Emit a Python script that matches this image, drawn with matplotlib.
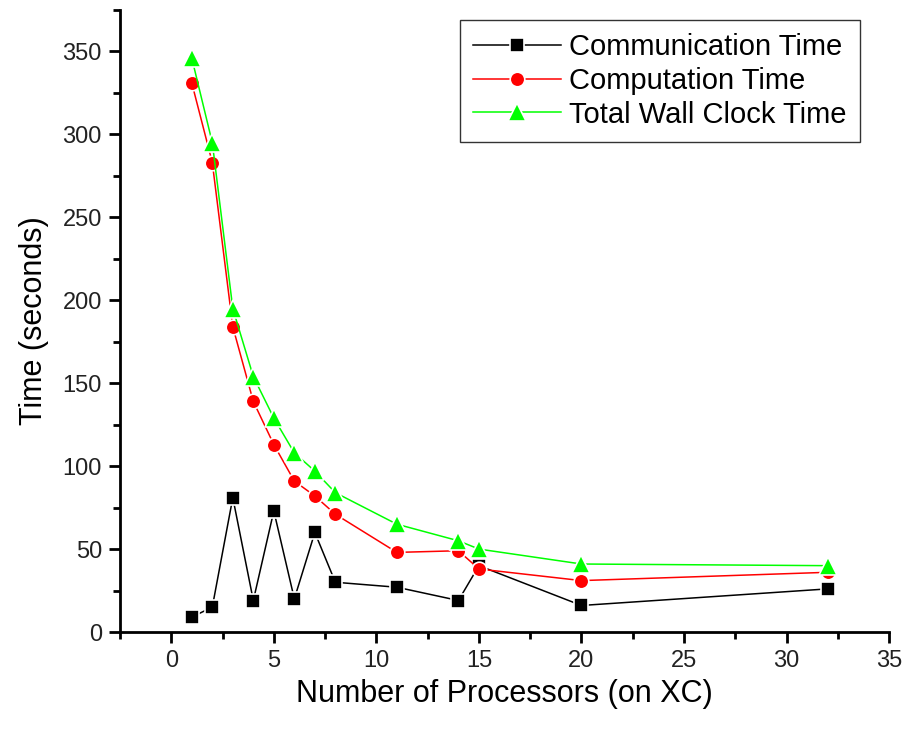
import numpy as np
from matplotlib import pyplot as plt
from matplotlib.ticker import MultipleLocator

plt.rcParams['font.family'] = ['Liberation Sans', 'DejaVu Sans']

# Data
procs = [1, 2, 3, 4, 5, 6, 7, 8, 11, 14, 15, 20, 32]

comm_time = [9, 15, 81, 19, 73, 20, 60, 30, 27, 19, 40, 16, 26]
comp_time = [331, 283, 184, 139, 113, 91, 82, 71, 48, 49, 38, 31, 36]
total_time = [346, 295, 195, 154, 129, 108, 97, 84, 65, 55, 50, 41, 40]

fig = plt.figure(figsize=(9.07, 7.31), dpi=100)
ax = fig.add_axes([0.1323, 0.1354, 0.848, 0.851])

ax.plot(procs, comm_time, color='black', linewidth=1.1, marker='s', markersize=9.5,
        markeredgecolor='white', markeredgewidth=1.2, label='Communication Time')
ax.plot(procs, comp_time, color='red', linewidth=1.1, marker='o', markersize=10.5,
        markeredgecolor='white', markeredgewidth=1.2, label='Computation Time')
ax.plot(procs, total_time, color='#00ff00', linewidth=1.1, marker='^', markersize=13,
        markeredgecolor='white', markeredgewidth=1.2, label='Total Wall Clock Time')

ax.set_xlim(-2.5, 35)
ax.set_ylim(0, 375)
ax.xaxis.set_major_locator(MultipleLocator(5))
ax.xaxis.set_minor_locator(MultipleLocator(2.5))
ax.yaxis.set_major_locator(MultipleLocator(50))
ax.yaxis.set_minor_locator(MultipleLocator(25))

for side in ['top', 'right']:
    ax.spines[side].set_visible(False)
for side in ['left', 'bottom']:
    ax.spines[side].set_linewidth(2)

ax.tick_params(which='major', length=8, width=2, labelsize=17, colors='black', pad=5)
ax.tick_params(which='minor', length=5, width=2)
for lab in ax.get_xticklabels() + ax.get_yticklabels():
    lab.set_color('#222222')

ax.set_xlabel('Number of Processors (on XC)', fontsize=22, labelpad=5)
ax.set_ylabel('Time (seconds)', fontsize=22, labelpad=10)

leg = ax.legend(loc='upper right', fontsize=21, handlelength=3.0, frameon=True,
                fancybox=False, edgecolor='black', borderpad=0.45,
                labelspacing=0.2, handletextpad=0.3, borderaxespad=0,
                bbox_to_anchor=(0.962, 0.984))
leg.get_frame().set_linewidth(1)

plt.savefig('out.png', dpi=100)
